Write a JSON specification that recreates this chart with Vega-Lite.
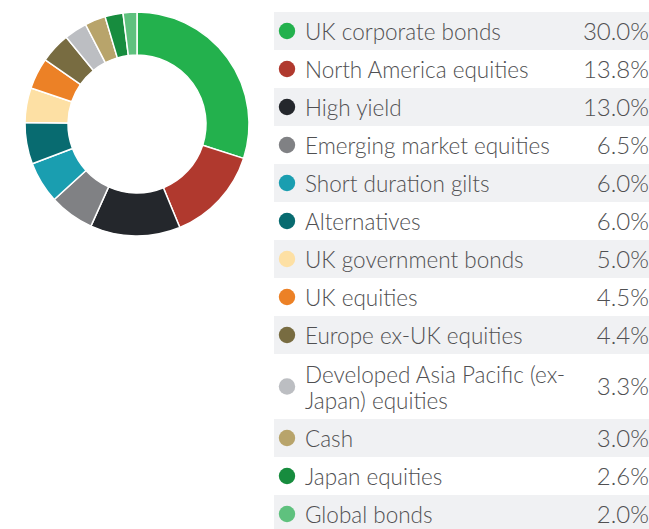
{
  "$schema": "https://vega.github.io/schema/vega-lite/v6.json",
  "padding": 0,
  "spacing": 0,
  "config": {"view": {"stroke": null}, "font": "Lato"},
  "datasets": {
    "alloc": [
      {"asset": "UK corporate bonds", "weight": 30.0},
      {"asset": "North America equities", "weight": 13.8},
      {"asset": "High yield", "weight": 13.0},
      {"asset": "Emerging market equities", "weight": 6.5},
      {"asset": "Short duration gilts", "weight": 6.0},
      {"asset": "Alternatives", "weight": 6.0},
      {"asset": "UK government bonds", "weight": 5.0},
      {"asset": "UK equities", "weight": 4.5},
      {"asset": "Europe ex-UK equities", "weight": 4.4},
      {"asset": "Developed Asia Pacific (ex-\nJapan) equities", "weight": 3.3},
      {"asset": "Cash", "weight": 3.0},
      {"asset": "Japan equities", "weight": 2.6},
      {"asset": "Global bonds", "weight": 2.0}
    ]
  },
  "hconcat": [
    {
      "width": 274,
      "height": 248,
      "data": {"name": "alloc"},
      "transform": [{"window": [{"op": "row_number", "as": "row"}]}],
      "mark": {"type": "arc", "outerRadius": 112, "innerRadius": 69, "stroke": "white", "strokeWidth": 1.5},
      "encoding": {
        "theta": {"field": "weight", "type": "quantitative", "stack": true},
        "order": {"field": "row", "type": "quantitative"},
        "color": {
          "field": "asset", "type": "nominal", "legend": null,
          "scale": {
            "domain": ["UK corporate bonds", "North America equities", "High yield", "Emerging market equities", "Short duration gilts", "Alternatives", "UK government bonds", "UK equities", "Europe ex-UK equities", "Developed Asia Pacific (ex-\nJapan) equities", "Cash", "Japan equities", "Global bonds"],
            "range": ["#23b14d", "#b0392e", "#24272c", "#808184", "#1a9eb0", "#086b70", "#fde0a4", "#ec8126", "#786c41", "#bcbec2", "#b8a46b", "#178c3e", "#5fc17e"]
          }
        }
      }
    },
    {
      "width": 375,
      "height": 529,
      "data": {"name": "alloc"},
      "transform": [
        {"calculate": "length(split(datum.asset, '\\n'))", "as": "lines"},
        {"calculate": "1 + 0.71 * (datum.lines - 1)", "as": "h"},
        {"window": [{"op": "sum", "field": "h", "as": "yend"}, {"op": "row_number", "as": "row"}], "frame": [null, 0]},
        {"calculate": "datum.yend - datum.h", "as": "ystart"},
        {"calculate": "(datum.ystart + datum.yend) / 2", "as": "ymid"},
        {"calculate": "datum.ymid - (datum.lines - 1) * 0.342", "as": "ytext"},
        {"calculate": "format(datum.weight, '.1f') + '%'", "as": "pct"}
      ],
      "layer": [
        {
          "transform": [{"filter": "datum.row % 2 == 1"}],
          "mark": {"type": "rect", "color": "#f0f1f3"},
          "encoding": {
            "y": {"field": "ystart", "type": "quantitative", "scale": {"domain": [-0.3158, 13.605], "reverse": true, "nice": false, "zero": false}, "axis": null},
            "y2": {"field": "yend"}
          }
        },
        {
          "mark": {"type": "circle", "size": 270, "opacity": 1},
          "encoding": {
            "x": {"value": 13},
            "y": {"field": "ymid", "type": "quantitative", "axis": null},
            "color": {"field": "asset", "type": "nominal", "legend": null}
          }
        },
        {
          "mark": {"type": "text", "align": "left", "baseline": "middle", "fontSize": 22.5, "fontWeight": 300, "color": "#505052", "lineBreak": "\n", "lineHeight": 26, "dy": 2},
          "encoding": {
            "x": {"value": 31},
            "y": {"field": "ytext", "type": "quantitative", "axis": null},
            "text": {"field": "asset"}
          }
        },
        {
          "mark": {"type": "text", "align": "right", "baseline": "middle", "fontSize": 24, "fontWeight": 300, "color": "#505052", "dy": 2},
          "encoding": {
            "x": {"value": 375},
            "y": {"field": "ymid", "type": "quantitative", "axis": null},
            "text": {"field": "pct"}
          }
        }
      ]
    }
  ]
}
